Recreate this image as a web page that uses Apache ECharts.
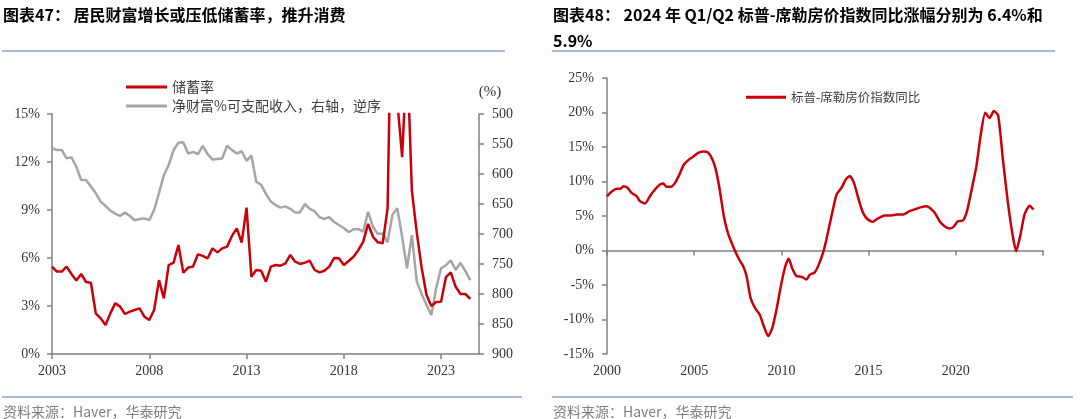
<!DOCTYPE html>
<html><head><meta charset="utf-8">
<script src="https://cdn.jsdelivr.net/npm/echarts@6/dist/echarts.min.js"></script>
<style>html,body{margin:0;padding:0;background:#fff}#c{width:1080px;height:419px}</style>
</head><body><div id="c"></div>
<script>
// ---- Left chart: quarterly (quarter-end), first point plotted at 2003.0 ----
const savStartYear = 2003;
const savingsRate = [5.46,5.15,5.15,5.46,5.0,4.6,5.0,4.5,4.45,2.54,2.23,1.81,2.54,3.17,2.96,2.5,2.65,2.75,2.85,2.33,
  2.12,2.75,4.62,3.48,5.56,5.71,6.81,5.08,5.4,5.46,6.23,6.13,5.98,6.6,6.35,6.6,6.71,7.38,7.85,6.96,
  9.15,4.83,5.25,5.2,4.52,5.46,5.56,5.52,5.67,6.19,5.77,5.63,5.71,5.83,5.25,5.1,5.2,5.46,6.0,5.98,
  5.56,5.81,6.08,6.5,7.02,8.13,7.33,6.98,6.92,9.1,26.0,15.8,12.3,19.0,10.2,7.6,5.4,3.7,3.0,3.25,
  3.27,4.8,5.1,4.2,3.75,3.75,3.44];
const netWorthPct = [557,560,560,574,572,588,610,610,621,632,646,653,661,666,670,664,670,677,675,674,
  677,660,632,602,585,560,548,547,566,563,567,553,567,576,575,574,553,560,566,562,
  578,569,613,618,633,646,652,656,654,658,664,664,650,658,662,672,675,672,680,685,
  690,697,692,692,696,663,688,700,699,714,668,657,705,757,702,779,800,818,835,790,
  757,752,744,760,748,762,777];
const leftXTicks = [2003, 2008, 2013, 2018, 2023];
const leftNames = ['储蓄率', '净财富%可支配收入，右轴，逆序'];

// ---- Right chart: S&P Case-Shiller YoY ----
const hpiYears = [2000.0,2000.29,2000.57,2000.76,2000.94,2001.17,2001.41,2001.7,2001.89,2002.18,2002.46,2002.75,
  2003.04,2003.23,2003.42,2003.67,2003.9,2004.15,2004.41,2004.66,2004.94,2005.23,2005.52,2005.74,2005.94,
  2006.19,2006.43,2006.7,2006.95,2007.33,2007.58,2007.81,2008.0,2008.23,2008.48,2008.76,2008.99,2009.24,
  2009.47,2009.72,2009.95,2010.2,2010.42,2010.63,2010.86,2011.15,2011.44,2011.63,2011.9,2012.1,2012.39,
  2012.58,2012.87,2013.16,2013.45,2013.69,2013.92,2014.16,2014.43,2014.68,2014.91,2015.22,2015.5,2015.92,
  2016.3,2016.63,2016.97,2017.35,2017.73,2018.02,2018.3,2018.5,2018.79,2019.07,2019.36,2019.64,2019.87,
  2020.12,2020.41,2020.64,2020.89,2021.18,2021.42,2021.69,2021.94,2022.18,2022.43,2022.7,2022.99,2023.27,
  2023.46,2023.69,2023.94,2024.23,2024.46];
const hpiYoY = [7.87,8.6,8.94,8.94,9.3,9.1,8.36,7.87,7.15,6.8,7.87,8.84,
  9.57,9.7,9.23,9.23,9.8,11.0,12.46,13.1,13.6,14.15,14.35,14.3,13.7,
  12.2,9.3,4.97,2.4,0.0,-1.3,-2.27,-3.7,-6.86,-8.3,-9.3,-10.97,-12.4,
  -11.3,-8.55,-5.4,-2.5,-1.2,-2.65,-3.7,-3.8,-4.2,-3.5,-3.2,-2.3,-0.3,
  1.6,4.97,8.1,9.1,10.3,10.8,9.8,7.4,5.46,4.6,4.15,4.6,5.07,
  5.07,5.2,5.2,5.7,6.04,6.28,6.43,6.2,5.46,4.25,3.53,3.19,3.43,
  4.25,4.35,5.7,8.6,12.2,16.6,19.95,19.2,20.2,19.57,13.2,6.9,2.07,
  -0.1,2.07,5.2,6.5,5.94];
const rightXLabels = [2000, 2005, 2010, 2015, 2020];
const rightName = '标普-席勒房价指数同比';

const RED = '#c8000a', GRAY = '#a6a6a6', AX = '#808080', LBL = '#333';
const SERIF = '"Liberation Serif", "Times New Roman", serif';
const CJK = '"Noto Sans CJK SC", sans-serif';
const lbl = (extra) => Object.assign({fontFamily: SERIF, fontSize: 14, color: LBL}, extra);
const yearFmt = (v) => String(Math.round(v));

const chart = echarts.init(document.getElementById('c'), null, {renderer: 'canvas'});
chart.setOption({
  animation: false,
  backgroundColor: '#fff',
  grid: [
    {left: 52, top: 114, width: 427, height: 240},
    {left: 607, top: 78, width: 436, height: 276}
  ],
  legend: [
    {data: leftNames, orient: 'vertical', left: 121, top: 75, itemWidth: 41, itemHeight: 3, itemGap: 5,
     icon: 'rect', textStyle: {fontFamily: CJK, fontSize: 14, color: '#404040', lineHeight: 14}},
    {data: [rightName], left: 741, top: 86, itemWidth: 40, itemHeight: 3, icon: 'rect',
     textStyle: {fontFamily: CJK, fontSize: 12.5, color: '#404040'}}
  ],
  xAxis: [
    {gridIndex: 0, type: 'value', min: 2003, max: 2024.95,
     axisLine: {onZero: false, lineStyle: {color: AX, width: 1.5}},
     axisTick: {show: true, customValues: leftXTicks, length: 5, lineStyle: {color: AX, width: 1.5}},
     axisLabel: lbl({customValues: leftXTicks, margin: 10, formatter: yearFmt}),
     splitLine: {show: false}},
    {gridIndex: 1, type: 'value', min: 2000, max: 2025, interval: 5,
     axisLine: {onZero: true, lineStyle: {color: AX, width: 1.5}},
     axisTick: {show: true, length: 5, lineStyle: {color: AX, width: 1.5}},
     axisLabel: {show: false}, splitLine: {show: false}},
    {gridIndex: 1, type: 'value', position: 'bottom', min: 2000, max: 2025, interval: 5,
     axisLine: {show: false, onZero: false}, axisTick: {show: false},
     axisLabel: lbl({customValues: rightXLabels, margin: 10, formatter: yearFmt}), splitLine: {show: false}}
  ],
  yAxis: [
    {gridIndex: 0, type: 'value', min: 0, max: 15, interval: 3, position: 'left',
     axisLine: {show: true, lineStyle: {color: AX, width: 1.5}},
     axisTick: {show: true, length: 5, lineStyle: {color: AX, width: 1.5}},
     axisLabel: lbl({formatter: '{value}%', margin: 12}), splitLine: {show: false}},
    {gridIndex: 0, type: 'value', min: 500, max: 900, interval: 50, inverse: true, position: 'right',
     axisLine: {show: true, lineStyle: {color: AX, width: 1.5}},
     axisTick: {show: true, length: 5, lineStyle: {color: AX, width: 1.5}},
     axisLabel: lbl({margin: 13}), splitLine: {show: false}},
    {gridIndex: 1, type: 'value', min: -15, max: 25, interval: 5,
     axisLine: {show: true, lineStyle: {color: AX, width: 1.5}},
     axisTick: {show: true, length: 5, lineStyle: {color: AX, width: 1.5}},
     axisLabel: lbl({formatter: '{value}%', margin: 13}), splitLine: {show: false}}
  ],
  series: [
    {name: leftNames[1], type: 'line', xAxisIndex: 0, yAxisIndex: 1, symbol: 'none',
     lineStyle: {color: GRAY, width: 2.5}, itemStyle: {color: GRAY}, z: 2,
     data: netWorthPct.map((v, i) => [savStartYear + i * 0.25, v])},
    {name: leftNames[0], type: 'line', xAxisIndex: 0, yAxisIndex: 0, symbol: 'none', clip: true,
     lineStyle: {color: RED, width: 2.5}, itemStyle: {color: RED}, z: 3,
     data: savingsRate.map((v, i) => [savStartYear + i * 0.25, v])},
    {name: rightName, type: 'line', xAxisIndex: 1, yAxisIndex: 2, symbol: 'none', smooth: 0.2,
     lineStyle: {color: RED, width: 2.5}, itemStyle: {color: RED},
     data: hpiYears.map((x, i) => [x, hpiYoY[i]])}
  ],
  graphic: [
    {type: 'text', x: 3, y: 15, style: {text: '图表47： 居民财富增长或压低储蓄率，推升消费',
      font: 'bold 16px "Noto Sans CJK SC"', fill: '#000', verticalAlign: 'middle'}},
    {type: 'text', x: 553, y: 2, style: {text: '图表48： 2024 年 Q1/Q2 标普-席勒房价指数同比涨幅分别为 6.4%和\n5.9%',
      font: 'bold 16px "Noto Sans CJK SC"', fill: '#000', verticalAlign: 'top', lineHeight: 26}},
    {type: 'line', shape: {x1: 2, y1: 51, x2: 505, y2: 51}, style: {stroke: '#8ea5c8', lineWidth: 1.5}},
    {type: 'line', shape: {x1: 552, y1: 51, x2: 1055, y2: 51}, style: {stroke: '#8ea5c8', lineWidth: 1.5}},
    {type: 'line', shape: {x1: 2, y1: 397, x2: 522, y2: 397}, style: {stroke: '#8ea5c8', lineWidth: 1.5}},
    {type: 'line', shape: {x1: 552, y1: 397, x2: 1073, y2: 397}, style: {stroke: '#8ea5c8', lineWidth: 1.5}},
    {type: 'text', x: 3, y: 412, style: {text: '资料来源：Haver，华泰研究', font: '14px "Noto Sans CJK SC"',
      fill: '#7f7f7f', verticalAlign: 'middle'}},
    {type: 'text', x: 553, y: 412, style: {text: '资料来源：Haver，华泰研究', font: '14px "Noto Sans CJK SC"',
      fill: '#7f7f7f', verticalAlign: 'middle'}},
    {type: 'text', x: 490, y: 92, style: {text: '(%)', font: '15px "Liberation Serif"', fill: LBL,
      align: 'center', verticalAlign: 'middle'}}
  ]
});
</script></body></html>
